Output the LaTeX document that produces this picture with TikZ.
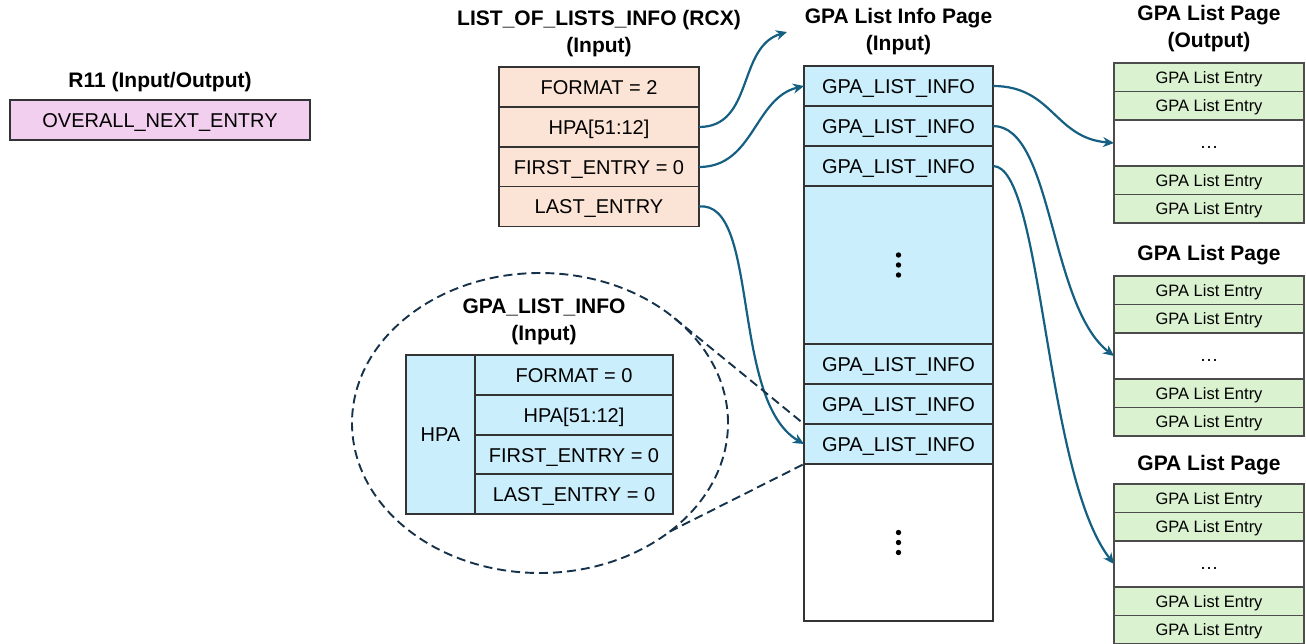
\documentclass[tikz,border=0pt]{standalone}
\usepackage{fontspec}
\setmainfont{Liberation Sans}
\usetikzlibrary{arrows.meta,shapes.geometric}
\definecolor{regcol}{HTML}{F2CFEE}
\definecolor{lolcol}{HTML}{FBE3D6}
\definecolor{infocol}{HTML}{CAEEFB}
\definecolor{entrycol}{HTML}{DAF2D0}
\definecolor{linkcol}{HTML}{156082}
\definecolor{zoomcol}{HTML}{15324A}

\begin{document}
\begin{tikzpicture}[x=1pt, y=-1pt,
	    every node/.style={inner sep=0pt, outer sep=0pt},
	    title/.style={font=\fontsize{21}{27}\selectfont\bfseries, align=center},
	    cell/.style={draw=black!80, line width=1.3pt, minimum height=40pt, text height=14.5pt, text depth=0pt, font=\fontsize{20}{24}\selectfont},
	    regcell/.style={cell, fill=regcol, minimum width=300pt},
	    lolcell/.style={cell, fill=lolcol, minimum width=200pt},
	    infocell/.style={cell, fill=infocol, minimum width=189pt},
	    fieldcell/.style={cell, fill=infocol, minimum width=198pt},
	    entry/.style={draw=black!70, line width=1.5pt, fill=entrycol, minimum width=190pt, minimum height=28.5pt, text height=11.5pt, text depth=0pt, font=\fontsize{16.5}{19}\selectfont},
	    link/.style={draw=linkcol, line width=2.2pt, -{Stealth[length=11pt,width=10pt]}},
	    zoomline/.style={draw=zoomcol, line width=1.9pt, dash pattern=on 9pt off 5pt}]
	    \useasboundingbox (0,0) rectangle (1306,643);

		% register
		\node[title] (r11title) at (160,82) {R11 (Input/Output)};
		\node[regcell] (r11) at (160,120) {OVERALL\_NEXT\_ENTRY};

		% list of lists info
		\node[title] (loltitle) at (599,34) {LIST\_OF\_LISTS\_INFO (RCX)\\(Input)};
		\node[lolcell] (lolformat) at (599,87) {FORMAT = 2};
		\node[lolcell] (lolhpa) at (599,127) {HPA[51:12]};
		\node[lolcell] (lolfirst) at (599,167) {FIRST\_ENTRY = 0};
		\node[lolcell] (lollast) at (599,206.5) {LAST\_ENTRY};
		\coordinate (infohint) at (787,32);

		% zoomed GPA_LIST_INFO
		\node[zoomline, ellipse, minimum width=376pt, minimum height=300pt] (zoomring) at (540,423) {};
		\node[title] (fieldtitle) at (544,321.5) {GPA\_LIST\_INFO\\(Input)};
		\node[cell, fill=infocol, minimum width=69pt, minimum height=159pt] (fieldhpa) at (440.5,434.5) {HPA};
		\node[fieldcell] (field1) at (574,375) {FORMAT = 0};
		\node[fieldcell] (field2) at (574,415) {HPA[51:12]};
		\node[fieldcell] (field3) at (574,455) {FIRST\_ENTRY = 0};
		\node[fieldcell] (field4) at (574,494) {LAST\_ENTRY = 0};

		% GPA list info page
		\node[title] (infotitle) at (898.5,31.5) {GPA List Info Page\\(Input)};
		\node[infocell] (info1) at (898.5,86) {GPA\_LIST\_INFO};
		\node[infocell] (info2) at (898.5,126) {GPA\_LIST\_INFO};
		\node[infocell] (info3) at (898.5,166) {GPA\_LIST\_INFO};
		\node[infocell, minimum height=158pt] (infogap) at (898.5,265) {};
		\node[infocell] (info4) at (898.5,364) {GPA\_LIST\_INFO};
		\node[infocell] (info5) at (898.5,404) {GPA\_LIST\_INFO};
		\node[infocell] (info6) at (898.5,444) {GPA\_LIST\_INFO};
		\node[infocell, fill=white, minimum height=157pt] (infofree) at (898.5,542.5) {};
		\foreach \d in {-10,0,10} {
			\fill (infogap) ++(0,\d) circle[radius=2.7pt];
			\fill (infofree) ++(0,\d) circle[radius=2.7pt];
		}

		% GPA list pages
		\node[title] (page1title) at (1209,28.5) {GPA List Page\\(Output)};
		\node[title] (page2title) at (1209,255) {GPA List Page};
		\node[title] (page3title) at (1209,465) {GPA List Page};
		\foreach \p/\t in {1/63, 2/276, 3/484} {
			\node[entry] (page\p-a) at (1209,\t+14.25) {GPA List Entry};
			\node[entry] (page\p-b) at (1209,\t+42.75) {GPA List Entry};
			\node[entry, fill=white, minimum height=46pt, font=\fontsize{19}{22}\selectfont] (page\p-dots) at (1209,\t+80) {…};
			\node[entry] (page\p-c) at (1209,\t+117.25) {GPA List Entry};
			\node[entry] (page\p-d) at (1209,\t+145.75) {GPA List Entry};
		}

		% links
		\draw[link] (lolhpa.east) .. controls +(55,0) and +(-50,15) .. (infohint);
		\draw[link] (lolfirst.east) .. controls +(55,0) and +(-50,12) .. (info1.west);
		\draw[link] (lollast.east) .. controls +(61,-6) and +(-74,-43) .. (info6.west);
		\draw[link] (info1.east) .. controls +(60,0) and +(-60,-5) .. (page1-dots.west);
		\draw[link] (info2.east) .. controls +(60,0) and +(-65,-50) .. (page2-dots.west);
		\draw[link] (info3.east) .. controls +(50,0) and +(-70,-90) .. (page3-dots.west);
		\draw[zoomline] (zoomring.38) -- (info6.north west);
		\draw[zoomline] (zoomring.-40) -- (info6.south west);
\end{tikzpicture}
\end{document}
